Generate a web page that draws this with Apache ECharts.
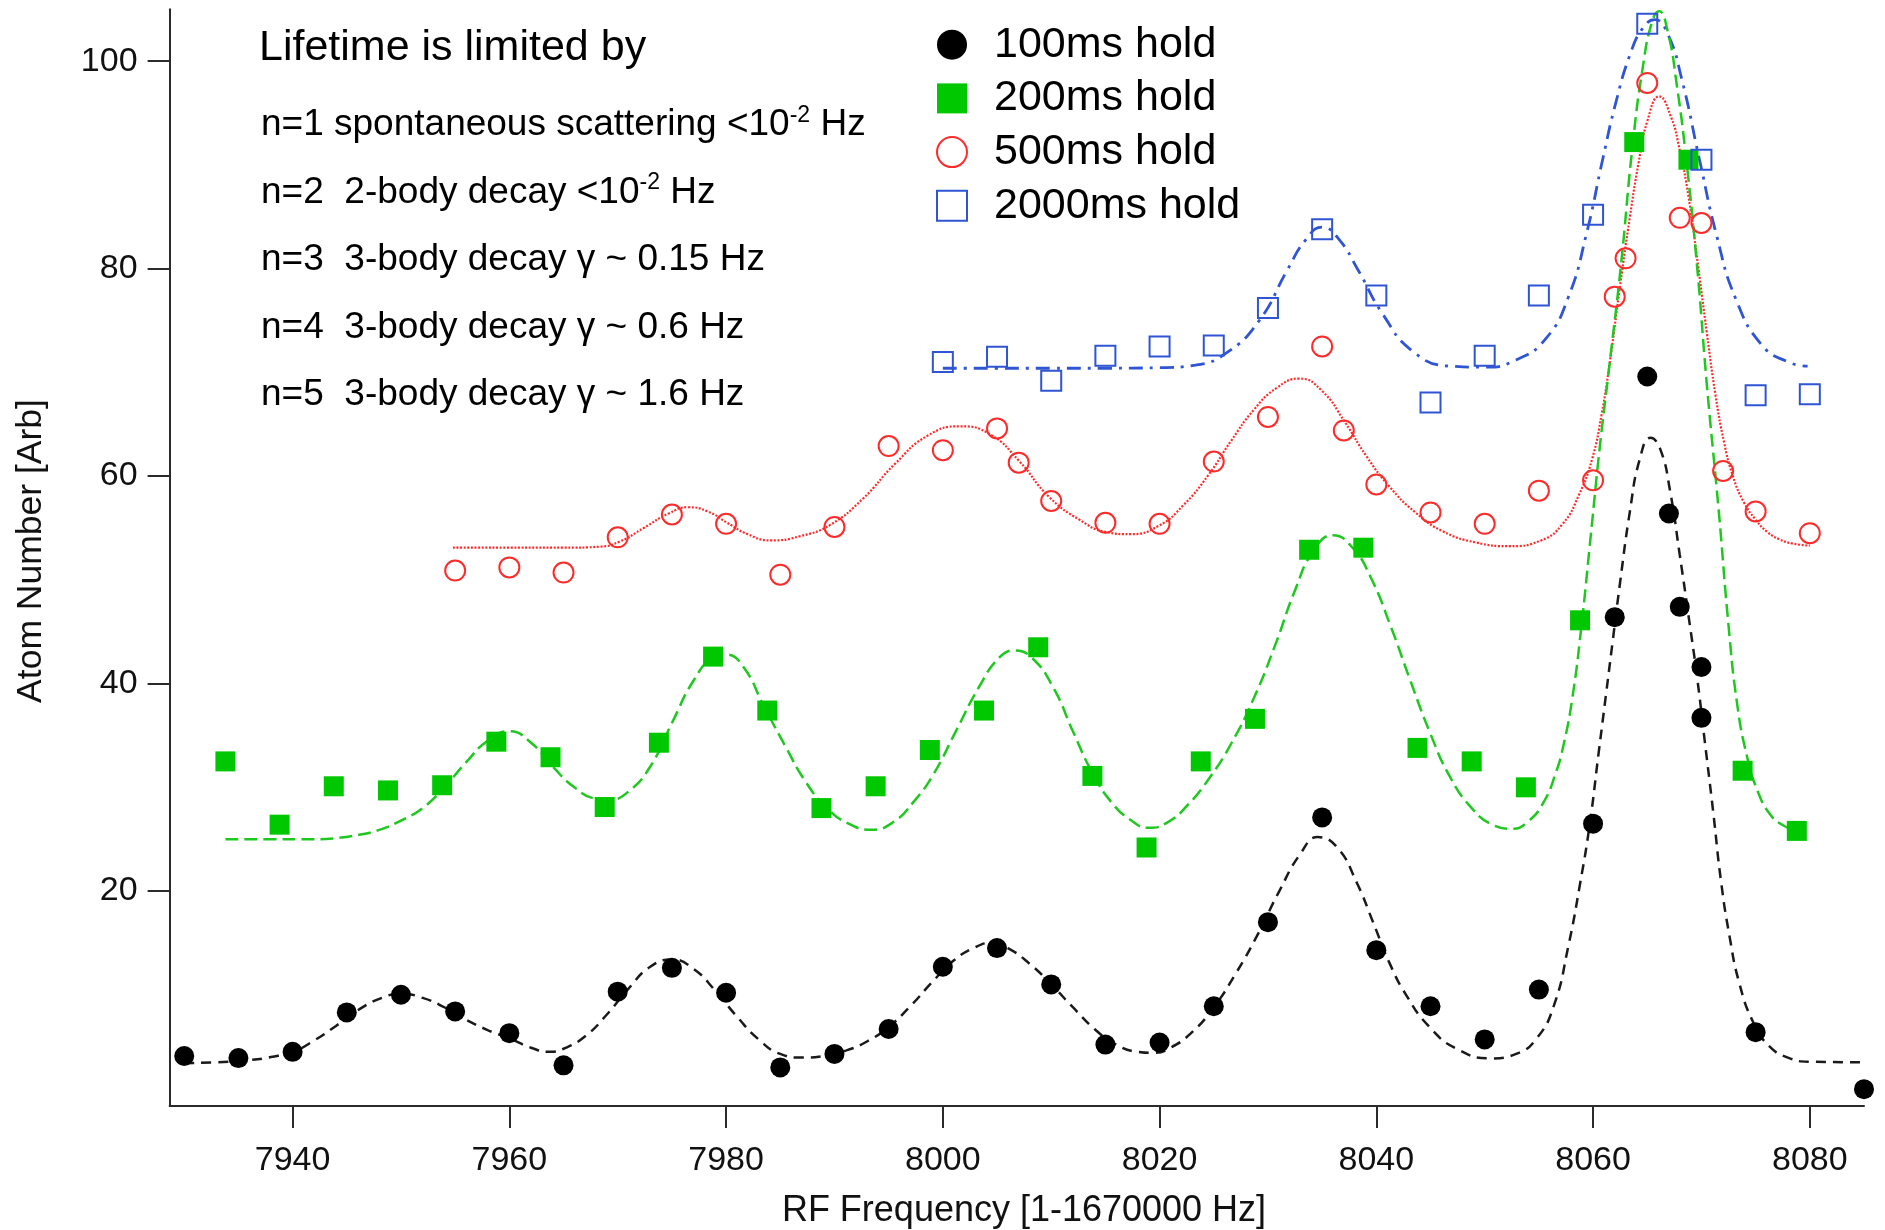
<!DOCTYPE html>
<html>
<head>
<meta charset="utf-8">
<title>Atom number vs RF frequency for several hold times</title>
<script src="https://cdn.jsdelivr.net/npm/echarts@6/dist/echarts.min.js"></script>
<style>
  html, body { margin: 0; padding: 0; background: #ffffff; }
  #chart { width: 1885px; height: 1230px; }
</style>
</head>
<body>
<div id="chart"></div>
<script>
// ---- measured points (RF frequency offset in Hz, atom number in arb. units) ----
const hold100X = [7930, 7935, 7940, 7945, 7950, 7955, 7960, 7965, 7970, 7975, 7980, 7985, 7990, 7995,
  8000, 8005, 8010, 8015, 8020, 8025, 8030, 8035, 8040, 8045, 8050, 8055, 8060, 8062, 8065, 8067,
  8068, 8070, 8070, 8075, 8085];
const hold100Y = [4.1, 3.9, 4.5, 8.3, 10.0, 8.4, 6.3, 3.2, 10.3, 12.6, 10.2, 3.0, 4.3, 6.7,
  12.7, 14.5, 11.0, 5.2, 5.4, 8.9, 17.0, 27.1, 14.3, 8.9, 5.7, 10.5, 26.5, 46.4, 69.6, 56.4,
  47.4, 41.6, 36.7, 6.4, 0.9];

const hold200X = [7933.8, 7938.8, 7943.8, 7948.8, 7953.8, 7958.8, 7963.8, 7968.8, 7973.8, 7978.8,
  7983.8, 7988.8, 7993.8, 7998.8, 8003.8, 8008.8, 8013.8, 8018.8, 8023.8, 8028.8,
  8033.8, 8038.8, 8043.8, 8048.8, 8053.8, 8058.8, 8063.8, 8068.8, 8073.8, 8078.8];
const hold200Y = [32.5, 26.4, 30.1, 29.7, 30.2, 34.4, 32.9, 28.1, 34.3, 42.6,
  37.4, 28.0, 30.1, 33.6, 37.4, 43.5, 31.1, 24.2, 32.5, 36.6,
  52.9, 53.1, 33.8, 32.5, 30.0, 46.1, 92.2, 90.5, 31.6, 25.8];

const hold500X = [7955, 7960, 7965, 7970, 7975, 7980, 7985, 7990, 7995, 8000, 8005, 8007, 8010,
  8015, 8020, 8025, 8030, 8035, 8037, 8040, 8045, 8050, 8055, 8060, 8062, 8063, 8065, 8068,
  8070, 8072, 8075, 8080];
const hold500Y = [50.9, 51.2, 50.7, 54.1, 56.3, 55.4, 50.5, 55.1, 62.9, 62.5, 64.6, 61.3, 57.6,
  55.5, 55.4, 61.4, 65.7, 72.5, 64.4, 59.2, 56.5, 55.4, 58.6, 59.6, 77.3, 81.0, 97.9, 84.9,
  84.4, 60.5, 56.6, 54.5];

const hold2000X = [8000, 8005, 8010, 8015, 8020, 8025, 8030, 8035, 8040, 8045, 8050, 8055, 8060,
  8065, 8070, 8075, 8080];
const hold2000Y = [71.0, 71.5, 69.2, 71.6, 72.5, 72.6, 76.2, 83.8, 77.4, 67.1, 71.6, 77.4, 85.2,
  103.6, 90.5, 67.8, 67.9];

// ---- fitted curves, sampled [frequency, atom number] ----
const fit100 = [[7930, 3.4], [7933, 3.5], [7936, 3.7], [7938, 4.0], [7940, 4.5], [7942, 5.6], [7944, 7.0],
  [7946, 8.5], [7948, 9.6], [7950, 10.1], [7952, 9.7], [7954, 8.8], [7956, 7.6], [7958, 6.6], [7960, 5.8],
  [7962, 4.9], [7963.7, 4.5], [7965, 4.8], [7967, 6.0], [7969, 8.1], [7971, 10.6], [7973, 12.7], [7975, 13.4],
  [7977, 12.5], [7979, 10.4], [7981, 7.9], [7983, 5.7], [7985, 4.3], [7987, 3.95], [7989, 4.1], [7991, 4.6],
  [7993, 5.5], [7995, 6.9], [7997, 8.9], [7999, 11.2], [8001, 13.3], [8003, 14.6], [8004.5, 15.0], [8006, 14.5],
  [8008, 13.0], [8010, 11.0], [8012, 8.8], [8014, 6.7], [8016, 5.2], [8018, 4.5], [8019.5, 4.4], [8021, 4.9],
  [8023, 6.4], [8025, 8.8], [8027, 12.0], [8029, 15.7], [8031, 19.9], [8033, 23.6], [8034.6, 25.2],
  [8036.4, 24.2], [8038.2, 20.8], [8039.7, 17.0], [8041.2, 13.1], [8042.8, 9.9], [8044.9, 6.9], [8047.4, 4.8],
  [8050.5, 3.87], [8052.9, 4.3], [8054.8, 5.8], [8056.4, 9.0], [8057.7, 14.6], [8058.8, 20.7], [8059.7, 26.5],
  [8060.5, 33.2], [8061.2, 39.0], [8061.8, 44.0], [8062.5, 49.8], [8063.4, 56.6], [8064.3, 61.6], [8065.3, 63.7],
  [8066.2, 62.6], [8067.1, 58.6], [8068.0, 52.4], [8068.8, 46.6], [8069.6, 40.6], [8070.3, 34.5], [8071.1, 27.5],
  [8071.8, 21.0], [8072.6, 15.6], [8073.5, 11.1], [8074.8, 7.3], [8076.3, 5.0], [8078.1, 3.9], [8080, 3.55],
  [8085, 3.5]];

const fit200 = [[7933.8, 25.0], [7938, 25.0], [7942, 25.0], [7944, 25.1], [7946, 25.4], [7948, 25.9],
  [7950, 26.8], [7952, 28.0], [7954, 30.0], [7956, 32.4], [7958, 34.5],
  [7960, 35.4], [7962, 34.3], [7964, 32.0], [7966, 30.0], [7968, 28.9], [7969.2, 28.8], [7971, 29.6],
  [7973, 32.0], [7975, 36.2], [7977, 40.3], [7978.8, 42.5], [7980.0, 42.8], [7981.6, 41.6], [7983.5, 37.8],
  [7985.5, 33.9], [7987.3, 30.6], [7989.3, 28.0], [7991.3, 26.5], [7993.4, 25.9], [7995.5, 26.7], [7997.3, 28.6],
  [7999.1, 31.2], [8001.2, 35.4], [8003.3, 39.6], [8005.2, 42.5], [8006.6, 43.2], [8008.2, 42.5], [8010.2, 39.6],
  [8012.0, 35.4], [8013.8, 31.4], [8015.6, 28.5], [8017.4, 26.8], [8019.0, 26.1], [8020.7, 26.6], [8022.6, 28.3],
  [8024.6, 30.9], [8026.6, 34.2], [8028.7, 38.6], [8030.7, 43.8], [8032.5, 49.0], [8034.2, 52.8], [8036.0, 54.3],
  [8037.8, 53.1], [8039.5, 50.2], [8041.3, 45.6], [8043.1, 40.4], [8044.9, 35.4], [8046.8, 31.0], [8048.8, 28.0],
  [8050.7, 26.4], [8052.5, 26.0], [8054.0, 26.7], [8055.4, 28.5], [8056.5, 31.2], [8057.3, 34.2], [8058.1, 38.7],
  [8058.9, 45.3], [8059.8, 54.4], [8060.6, 62.6], [8061.5, 70.6], [8062.6, 80.6], [8063.6, 91.4], [8064.6, 99.5],
  [8065.5, 104.0], [8066.1, 104.8], [8066.9, 102.8], [8067.7, 97.9], [8068.6, 90.5], [8069.6, 80.2],
  [8070.5, 68.8], [8071.6, 56.6], [8072.5, 45.6], [8073.3, 38.0], [8074.2, 33.0], [8075.2, 29.6], [8076.4, 27.3],
  [8077.6, 26.3], [8078.8, 25.8]];

const fit500 = [[7954.8, 53.1], [7960, 53.1], [7965, 53.1], [7968.4, 53.2], [7970.2, 53.7], [7972.4, 55.0],
  [7974.7, 56.4], [7976.5, 57.0], [7978.3, 56.6], [7980.1, 55.5], [7982, 54.4], [7984.1, 53.8], [7986.8, 54.2],
  [7989.6, 55.3], [7992.6, 57.8], [7995.6, 61.2], [7998.6, 63.9], [8001.6, 64.8], [8004.4, 64.0], [8007.0, 61.5],
  [8009.8, 58.0], [8012.6, 55.8], [8015.1, 54.6], [8017.3, 54.4], [8019.9, 55.2], [8022.2, 57.2], [8024.5, 60.1],
  [8026.6, 63.4], [8028.7, 66.4], [8030.8, 68.5], [8032.9, 69.4], [8035.0, 68.2], [8037.1, 65.2], [8039.1, 61.9],
  [8041.2, 59.0], [8043.6, 56.5], [8046.1, 54.7], [8049.2, 53.6], [8052.3, 53.25], [8055.2, 53.8], [8057.2, 55.4],
  [8058.7, 58.2], [8059.9, 61.6], [8060.8, 66.0], [8061.6, 71.4], [8062.5, 78.4], [8063.4, 85.0], [8064.2, 90.2],
  [8065.0, 94.2], [8066.1, 96.6], [8067.2, 94.6], [8068.0, 91.4], [8068.8, 87.0], [8069.7, 80.2], [8070.5, 73.8],
  [8071.3, 67.8], [8072.1, 63.2], [8072.9, 60.0], [8073.9, 57.5], [8075.0, 55.8], [8076.1, 54.6], [8077.2, 53.9],
  [8078.4, 53.5], [8080, 53.3]];

const fit2000 = [[8000, 70.4], [8005, 70.4], [8010, 70.4], [8015, 70.4], [8020, 70.45], [8023.3, 70.7],
  [8026.2, 71.9], [8029.2, 75.0], [8031.8, 79.9], [8033.5, 82.8], [8035.0, 84.0], [8036.5, 82.9], [8038.3, 79.9],
  [8040.6, 75.6], [8043.4, 72.0], [8046.8, 70.6], [8050.0, 70.5], [8052.9, 71.2], [8055.6, 73.2], [8057.7, 77.2],
  [8059.4, 83.4], [8060.9, 90.6], [8062.1, 96.0], [8063.4, 100.6], [8064.6, 103.2], [8065.7, 104.0],
  [8066.9, 102.6], [8068.2, 98.2], [8069.8, 90.6], [8071.4, 83.2], [8073.2, 77.0], [8075.6, 72.6],
  [8078.0, 71.0], [8079.8, 70.6]];

// ---- axis ticks and text ----
const xTicks = [7940, 7960, 7980, 8000, 8020, 8040, 8060, 8080];
const yTicks = [20, 40, 60, 80, 100];
const seriesNames = ['100ms hold', '200ms hold', '500ms hold', '2000ms hold'];
const noteTitle = 'Lifetime is limited by';
const noteLines = [
  ['n=1 spontaneous scattering <10', '-2', ' Hz'],
  ['n=2  2-body decay <10', '-2', ' Hz'],
  ['n=3  3-body decay \u03b3 ~ 0.15 Hz'],
  ['n=4  3-body decay \u03b3 ~ 0.6 Hz'],
  ['n=5  3-body decay \u03b3 ~ 1.6 Hz']
];
const xTitle = 'RF Frequency [1-1670000 Hz]';
const yTitle = 'Atom Number [Arb]';

const FONT = '"Liberation Sans", Arial, Helvetica, sans-serif';
const AXIS_COLOR = '#2b2b2b';
const GREEN = '#00c800';
const RED = '#ff2a2a';
const BLUE = '#2f55d4';

const zip = (xs, ys) => xs.map((x, i) => [x, ys[i]]);

const chart = echarts.init(document.getElementById('chart'), null, { renderer: 'canvas' });

function fitLine(name, data, color, dash, width) {
  return {
    name: name,
    type: 'line',
    data: data,
    showSymbol: false,
    symbol: 'none',
    smooth: 0.5,
    z: 2,
    silent: true,
    lineStyle: { color: color, width: width, type: dash, cap: 'butt' }
  };
}

function markers(name, data, symbol, itemStyle) {
  return {
    name: name,
    type: 'scatter',
    data: data,
    symbol: symbol,
    symbolSize: 20,
    z: 3,
    itemStyle: Object.assign({ opacity: 1 }, itemStyle)
  };
}

// annotation block: superscripts via rich text
const noteGraphics = [{
  type: 'text',
  x: 259, y: 48,
  style: { text: noteTitle, font: '43px ' + FONT, fill: '#000', align: 'left', verticalAlign: 'middle' }
}];
const noteCenters = [125, 192.5, 260, 327.5, 394.5];
noteLines.forEach((parts, i) => {
  let txt = '{a|' + parts[0] + '}';
  if (parts.length > 1) txt += '{s|' + parts[1] + '}{a|' + parts[2] + '}';
  noteGraphics.push({
    type: 'text',
    x: 261, y: noteCenters[i],
    style: {
      text: txt,
      fill: '#000',
      align: 'left',
      verticalAlign: 'middle',
      rich: {
        a: { fontSize: 37, fontFamily: FONT, lineHeight: 42, fill: '#000' },
        s: { fontSize: 23, fontFamily: FONT, lineHeight: 32, verticalAlign: 'top', fill: '#000' }
      }
    }
  });
});

const option = {
  animation: false,
  backgroundColor: '#ffffff',
  grid: { left: 169.6, right: 21, top: 9.3, bottom: 124, outerBoundsMode: 'none', containLabel: false },
  legend: {
    orient: 'vertical',
    left: 936,
    top: 23.2,
    padding: 0,
    itemWidth: 30,
    itemHeight: 30,
    itemGap: 10.7,
    selectedMode: false,
    textStyle: { fontSize: 43, fontFamily: FONT, color: '#000', padding: [0, 0, 0, 22] },
    data: seriesNames
  },
  xAxis: {
    type: 'value',
    min: 7928.65,
    max: 8085.0,
    axisLine: { show: true, onZero: false, lineStyle: { color: AXIS_COLOR, width: 2 } },
    axisTick: { show: true, customValues: xTicks, length: 22, lineStyle: { color: AXIS_COLOR, width: 2 } },
    axisLabel: {
      customValues: xTicks, margin: 38, fontSize: 34, lineHeight: 34, fontFamily: FONT, color: '#111',
      formatter: (v) => String(v)
    },
    splitLine: { show: false }
  },
  yAxis: {
    type: 'value',
    min: -0.72,
    max: 105.0,
    axisLine: { show: true, onZero: false, lineStyle: { color: AXIS_COLOR, width: 2 } },
    axisTick: { show: true, customValues: yTicks, length: 22, lineStyle: { color: AXIS_COLOR, width: 2 } },
    axisLabel: {
      customValues: yTicks, margin: 32, fontSize: 34, fontFamily: FONT, color: '#111',
      formatter: (v) => String(v)
    },
    splitLine: { show: false }
  },
  graphic: noteGraphics.concat([
    {
      type: 'text', x: 1024, y: 1211,
      style: { text: xTitle, font: '36px ' + FONT, fill: '#111', align: 'center', verticalAlign: 'middle' }
    },
    {
      type: 'text', x: 31, y: 551, rotation: Math.PI / 2,
      style: { text: yTitle, font: '35.5px ' + FONT, fill: '#111', align: 'center', verticalAlign: 'middle' }
    }
  ]),
  series: [
    fitLine('fit 2000ms', fit2000, BLUE, [14, 7, 3, 7], 2.8),
    fitLine('fit 500ms', fit500, RED, [2, 1.6], 2.2),
    fitLine('fit 200ms', fit200, '#1fc81f', [13, 6], 2.5),
    fitLine('fit 100ms', fit100, '#1a1a1a', [10, 7], 2.5),
    markers(seriesNames[0], zip(hold100X, hold100Y), 'circle', { color: '#000000' }),
    markers(seriesNames[1], zip(hold200X, hold200Y), 'rect', { color: GREEN }),
    markers(seriesNames[2], zip(hold500X, hold500Y), 'circle',
      { color: 'rgba(255,255,255,0)', borderColor: RED, borderWidth: 2 }),
    markers(seriesNames[3], zip(hold2000X, hold2000Y), 'rect',
      { color: 'rgba(255,255,255,0)', borderColor: BLUE, borderWidth: 2 })
  ]
};

chart.setOption(option);
</script>
</body>
</html>
